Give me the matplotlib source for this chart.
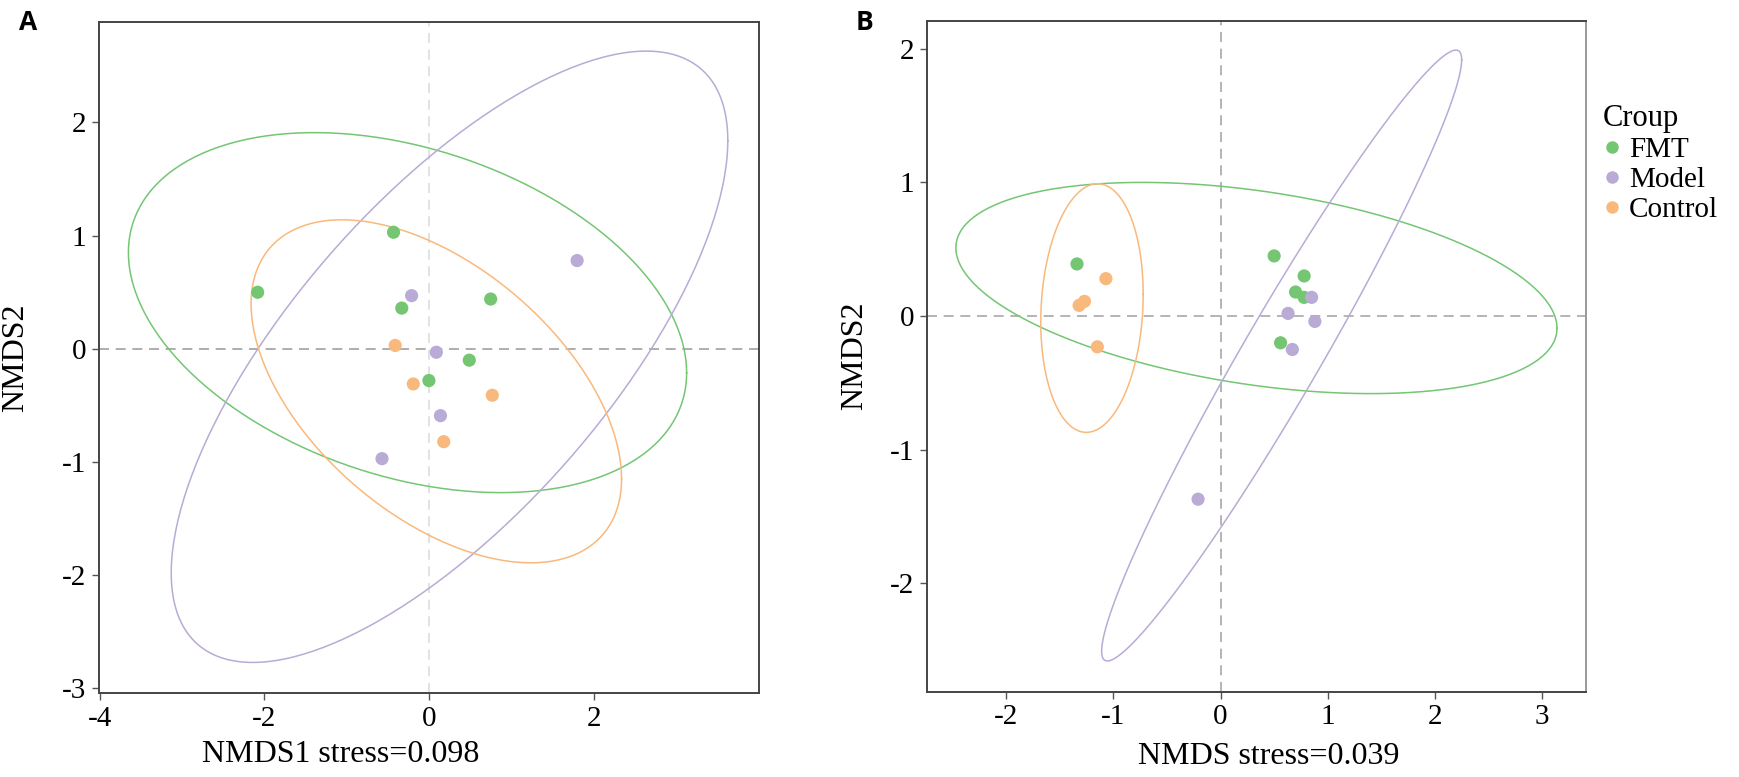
import numpy as np
import matplotlib
matplotlib.use("Agg")
import matplotlib.pyplot as plt
from matplotlib.lines import Line2D

plt.rcParams['font.family'] = ['Liberation Serif', 'DejaVu Serif']
plt.rcParams['axes.unicode_minus'] = False

groups = ['FMT', 'Model', 'Control']
colors = {'FMT': '#74c673', 'Model': '#b9aad6', 'Control': '#f9b97c'}

# panel A points (NMDS1, NMDS2)
a_fmt_x = [-2.08, -0.43, -0.33, 0.75, 0.49, 0.00]
a_fmt_y = [0.50, 1.03, 0.36, 0.44, -0.10, -0.28]
a_model_x = [-0.21, 1.80, 0.09, 0.14, -0.57]
a_model_y = [0.47, 0.78, -0.03, -0.59, -0.97]
a_ctrl_x = [-0.41, -0.19, 0.77, 0.18]
a_ctrl_y = [0.03, -0.31, -0.41, -0.82]

# panel B points
b_fmt_x = [-1.34, 0.50, 0.78, 0.70, 0.78, 0.56]
b_fmt_y = [0.39, 0.45, 0.30, 0.18, 0.14, -0.20]
b_model_x = [0.85, 0.63, 0.88, 0.67, -0.21]
b_model_y = [0.14, 0.02, -0.04, -0.25, -1.37]
b_ctrl_x = [-1.07, -1.32, -1.27, -1.15]
b_ctrl_y = [0.28, 0.08, 0.11, -0.23]

# ellipses: centre x, centre y, half-range x, half-range y, correlation
a_ell_cx = [-0.26, 0.25, 0.09]
a_ell_cy = [0.32, -0.07, -0.375]
a_ell_sx = [3.39, 3.38, 2.25]
a_ell_sy = [1.59, 2.70, 1.515]
a_ell_r = [-0.334, 0.707, -0.51]

b_ell_cx = [0.335, 0.57, -1.20]
b_ell_cy = [0.21, -0.295, 0.06]
b_ell_sx = [2.805, 1.68, 0.478]
b_ell_sy = [0.79, 2.285, 0.93]
b_ell_r = [-0.38, 0.968, 0.11]


def ellipse_xy(cx, cy, sx, sy, r):
    t = np.linspace(0, 2 * np.pi, 300)
    x = cx + sx * np.cos(t)
    y = cy + sy * (r * np.cos(t) + np.sqrt(1 - r ** 2) * np.sin(t))
    return x, y


def draw_panel(ax, pts, ell, xlim, ylim, xticks, yticks):
    cx, cy, sx, sy, rr = ell
    for i, g in enumerate(groups):
        ex, ey = ellipse_xy(cx[i], cy[i], sx[i], sy[i], rr[i])
        ax.plot(ex, ey, color=colors[g], lw=1.1, zorder=3)
    for g, (px, py) in zip(groups, pts):
        ax.scatter(px, py, s=90, color=colors[g], edgecolors='none', zorder=4)
    ax.set_xlim(xlim)
    ax.set_ylim(ylim)
    ax.set_xticks(xticks)
    ax.set_yticks(yticks)
    ax.tick_params(labelsize=21, length=5, width=1, color='#555555', pad=4)
    for s in ax.spines.values():
        s.set_color('#444444')
        s.set_linewidth(1.4)


fig = plt.figure(figsize=(17.39, 7.77), dpi=100)

axA = fig.add_axes([0.0568, 0.1081, 0.3797, 0.864])
axA.axhline(0, color='#a0a0a0', lw=1.2, ls=(0, (6, 4)), zorder=1)
axA.axvline(0, color='#dddddd', lw=1.2, ls=(0, (6, 4)), zorder=1)
draw_panel(axA, [(a_fmt_x, a_fmt_y), (a_model_x, a_model_y), (a_ctrl_x, a_ctrl_y)],
           (a_ell_cx, a_ell_cy, a_ell_sx, a_ell_sy, a_ell_r),
           (-4.01, 4.01), (-3.04, 2.89), [-4, -2, 0, 2], [-3, -2, -1, 0, 1, 2])
axA.set_xlabel('NMDS1 stress=0.098', fontsize=23)
axA.set_ylabel('NMDS2', fontsize=23)
axA.xaxis.set_label_coords(0.367, -0.070)
axA.yaxis.set_label_coords(-0.104, 0.5)

axB = fig.add_axes([0.5328, 0.1098, 0.3795, 0.8636])
axB.axhline(0, color='#a8a8a8', lw=1.2, ls=(0, (6, 4)), zorder=1)
axB.axvline(0, color='#a8a8a8', lw=1.2, ls=(0, (6, 4)), zorder=1)
draw_panel(axB, [(b_fmt_x, b_fmt_y), (b_model_x, b_model_y), (b_ctrl_x, b_ctrl_y)],
           (b_ell_cx, b_ell_cy, b_ell_sx, b_ell_sy, b_ell_r),
           (-2.744, 3.415), (-2.81, 2.21), [-2, -1, 0, 1, 2, 3], [-2, -1, 0, 1, 2])
axB.spines['right'].set_color('#999999')
axB.set_xlabel('NMDS stress=0.039', fontsize=23)
axB.set_ylabel('NMDS2', fontsize=23)
axB.xaxis.set_label_coords(0.519, -0.0757)
axB.yaxis.set_label_coords(-0.087, 0.5)

handles = [Line2D([], [], ls='none', marker='o', ms=9, mec='none', mfc=colors[g]) for g in groups]
leg = fig.legend(handles, groups, loc='upper left', bbox_to_anchor=(1603 / 1739, 1 - 104 / 777),
                 frameon=False, fontsize=21, title='Croup', title_fontsize=22,
                 handlelength=0.6, handletextpad=0.3, labelspacing=0.12,
                 borderaxespad=0, borderpad=0, alignment='left')

fig.text(27.7 / 1739, 1 - 23 / 777, 'A', fontsize=19, fontweight='bold', family='Open Sans',
         ha='center', va='center')
fig.text(865 / 1739, 1 - 22 / 777, 'B', fontsize=19, fontweight='bold', family='Open Sans',
         ha='center', va='center')

fig.savefig('out.png', dpi=100)
